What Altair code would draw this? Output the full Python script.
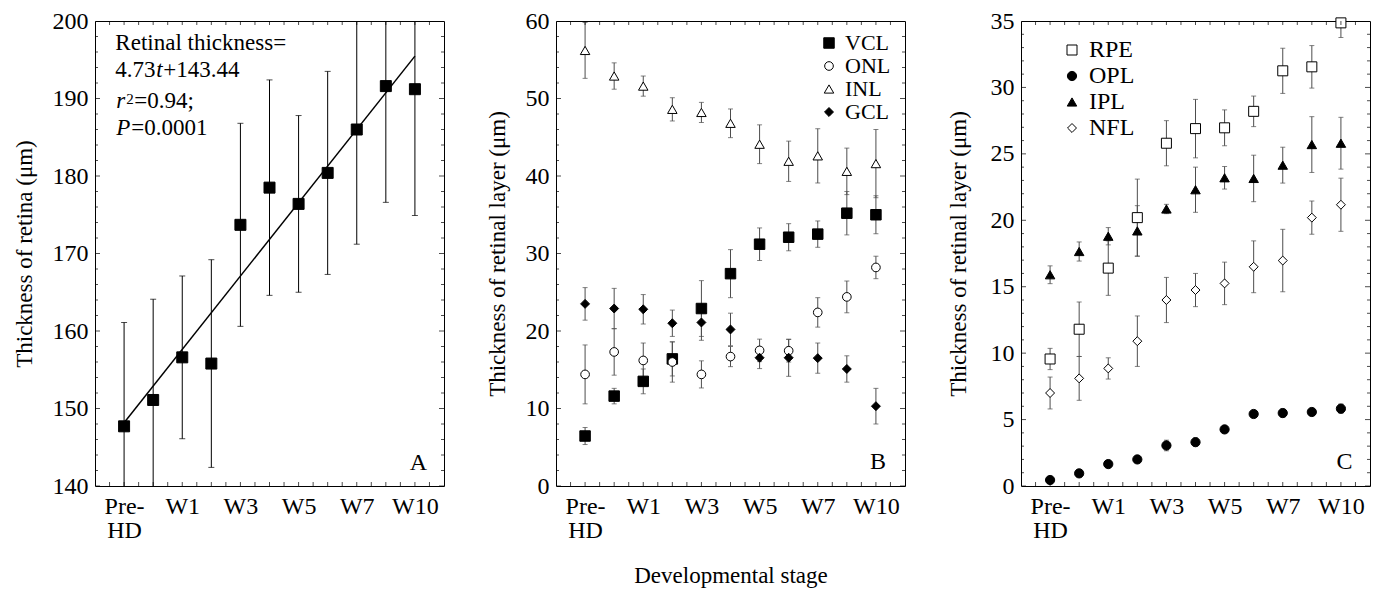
import altair as alt
import pandas as pd

FONT = "Liberation Serif"

# ---------------- shared x axis ----------------
stage_pos = [0, 1, 2, 3, 4, 5, 6, 7, 8, 9, 10]
x_tick_values = [0, 2, 4, 6, 8, 10]
x_tick_labels = ["Pre-\nHD", "W1", "W3", "W5", "W7", "W10"]
x_minor_ticks = [i * 0.5 for i in range(-1, 22)]
x_domain = [-1, 11]

# ---------------- panel A ----------------
retina_mean = [147.7, 151.1, 156.6, 155.8, 173.7, 178.5, 176.4, 180.4, 186.0, 191.6, 191.2]
retina_sd = [13.4, 13.0, 10.5, 13.4, 13.1, 13.9, 11.4, 13.1, 14.8, 15.0, 16.3]
fit_slope = 4.73
fit_intercept = 143.44
a_ydom = [140, 200]
a_ymajor = [140, 150, 160, 170, 180, 190, 200]
a_yminor = [v for v in range(142, 200, 2) if v % 10]

# ---------------- panel B ----------------
b_names = ["VCL", "ONL", "INL", "GCL"]
b_shapes = ["square", "circle", "triangle-up", "diamond"]
b_fills = ["black", "white", "white", "black"]
b_sizes = [110, 75, 90, 80]
vcl_mean = [6.45, 11.6, 13.5, 16.4, 22.9, 27.4, 31.2, 32.1, 32.5, 35.2, 35.0]
vcl_sd = [1.1, 1.0, 1.6, 2.2, 3.6, 3.1, 2.1, 1.75, 1.7, 2.8, 2.45]
onl_mean = [14.4, 17.3, 16.2, 16.0, 14.4, 16.7, 17.5, 17.45, 22.4, 24.4, 28.2]
onl_sd = [3.8, 3.0, 2.25, 2.6, 1.75, 1.3, 1.45, 1.45, 1.9, 2.05, 1.45]
inl_mean = [56.2, 52.9, 51.6, 48.6, 48.2, 46.8, 44.1, 41.9, 42.6, 40.6, 41.6]
inl_sd = [3.6, 1.7, 1.3, 1.5, 1.3, 1.85, 2.5, 2.6, 3.5, 3.0, 4.4]
gcl_mean = [23.5, 22.9, 22.8, 21.0, 21.1, 20.2, 16.55, 16.55, 16.5, 15.1, 10.3]
gcl_sd = [2.1, 2.6, 1.9, 1.7, 2.3, 2.1, 1.4, 2.4, 1.95, 1.7, 2.3]
b_ydom = [0, 60]
b_ymajor = [0, 10, 20, 30, 40, 50, 60]
b_yminor = [v for v in range(2, 60, 2) if v % 10]

# ---------------- panel C ----------------
c_names = ["RPE", "OPL", "IPL", "NFL"]
c_shapes = ["square", "circle", "triangle-up", "diamond"]
c_fills = ["white", "black", "black", "white"]
c_sizes = [100, 85, 90, 80]
rpe_mean = [9.56, 11.8, 16.4, 20.2, 25.8, 26.9, 26.96, 28.2, 31.25, 31.55, 34.86]
rpe_sd = [0.8, 2.05, 2.05, 2.9, 1.7, 2.2, 1.35, 1.15, 1.7, 1.6, 1.1]
opl_mean = [0.45, 0.95, 1.65, 2.0, 3.05, 3.3, 4.26, 5.42, 5.49, 5.57, 5.82]
opl_sd = [0.1, 0.1, 0.15, 0.15, 0.4, 0.3, 0.15, 0.2, 0.3, 0.2, 0.35]
ipl_mean = [15.9, 17.65, 18.8, 19.2, 20.85, 22.3, 23.2, 23.15, 24.15, 25.7, 25.8]
ipl_sd = [0.67, 0.72, 0.65, 1.9, 0.35, 1.7, 0.85, 1.75, 1.35, 2.1, 1.95]
nfl_mean = [7.0, 8.1, 8.85, 10.9, 14.0, 14.75, 15.25, 16.5, 16.97, 20.2, 21.17]
nfl_sd = [1.2, 1.65, 0.8, 1.9, 1.7, 1.25, 1.6, 1.95, 2.35, 1.25, 2.0]
c_ydom = [0, 35]
c_ymajor = [0, 5, 10, 15, 20, 25, 30, 35]
c_yminor = [v for v in range(1, 35) if v % 5]

# text
a_ytitle = "Thickness of retina (μm)"
b_ytitle = "Thickness of retinal layer (μm)"
c_ytitle = "Thickness of retinal layer (μm)"
x_title = "Developmental stage"

W, H = 349, 465


def label_expr(vals, labels):
    out = ""
    for v, l in zip(vals, labels):
        segs = l.split("\n")
        if len(segs) > 1:
            txt = "[" + ",".join("'" + s + "'" for s in segs) + "]"
        else:
            txt = "'" + l + "'"
        out += "datum.value == %s ? %s : " % (v, txt)
    return out + "''"


LABEL_EXPR = label_expr(x_tick_values, x_tick_labels)


def make_x(xtitle):
    def f(field):
        return alt.X(field, type="quantitative", title=xtitle,
                     scale=alt.Scale(domain=x_domain, nice=False, zero=False),
                     axis=alt.Axis(values=x_tick_values, labelExpr=LABEL_EXPR, grid=False,
                                   domain=False, ticks=False, labelPadding=8, labelFlush=False,
                                   labelOverlap=False, labelLineHeight=24, titlePadding=22))
    return f


def make_y(ydom, ymaj, ytitle, tpad):
    def f(field):
        return alt.Y(field, type="quantitative", title=ytitle,
                     scale=alt.Scale(domain=ydom, nice=False, zero=False),
                     axis=alt.Axis(values=ymaj, grid=False, domain=False, ticks=False,
                                   labelPadding=7, labelFlush=False, labelOverlap=False,
                                   titlePadding=tpad))
    return f


def long_df(names, means, sds):
    rows = []
    for name, m, s in zip(names, means, sds):
        for p, mv, sv in zip(stage_pos, m, s):
            rows.append({"series": name, "pos": p, "mean": mv, "lo": mv - sv, "hi": mv + sv})
    return pd.DataFrame(rows)


def errorbars(df, X, Y, color, cap):
    base = alt.Chart(df)
    rule = base.mark_rule(color=color, strokeWidth=1, clip=True).encode(
        x=X("pos"), y=Y("lo"), y2=alt.Y2("hi"))
    lo = base.mark_tick(orient="horizontal", size=cap, thickness=1, color=color, clip=True).encode(
        x=X("pos"), y=Y("lo"))
    hi = base.mark_tick(orient="horizontal", size=cap, thickness=1, color=color, clip=True).encode(
        x=X("pos"), y=Y("hi"))
    return [rule, lo, hi]


def frame_ticks(X, Y, ydom, ymaj, ymin):
    layers = []
    xt = pd.DataFrame({"t": x_minor_ticks})
    for yd in ydom:
        layers.append(alt.Chart(xt).mark_tick(orient="vertical", size=8, thickness=1,
                                              color="black", clip=True)
                      .encode(x=X("t"), y=alt.datum(yd)))
    for vals, sz in ((ymaj, 10), (ymin, 6)):
        yt = pd.DataFrame({"t": vals})
        for xd in x_domain:
            layers.append(alt.Chart(yt).mark_tick(orient="horizontal", size=sz, thickness=1,
                                                  color="black", clip=True)
                          .encode(x=alt.datum(xd), y=Y("t")))
    return layers


def text_piece(X, Y, x, y, txt, dx=0, dy=0, italic=False, size=23, align="left"):
    return alt.Chart(pd.DataFrame({"x": [x], "y": [y], "t": [txt]})).mark_text(
        font=FONT, fontSize=size, fontStyle="italic" if italic else "normal", align=align,
        baseline="alphabetic", dx=dx, dy=dy, color="black").encode(
        x=X("x"), y=Y("y"), text="t:N")


def series_points(df, X, Y, names, shapes, fills, sizes, legend):
    return alt.Chart(df).mark_point(filled=True, opacity=1, strokeWidth=1).encode(
        x=X("pos"), y=Y("mean"),
        shape=alt.Shape("series:N", scale=alt.Scale(domain=names, range=shapes), legend=legend),
        fill=alt.Fill("series:N", scale=alt.Scale(domain=names, range=fills), legend=legend),
        stroke=alt.Stroke("series:N", scale=alt.Scale(domain=names, range=["black"] * len(names)),
                          legend=legend),
        size=alt.Size("series:N", scale=alt.Scale(type="ordinal", domain=names, range=sizes), legend=legend),
    )


def legend_for(lx, ly, row_pad, fsize):
    return alt.Legend(title=None, orient="none", legendX=lx, legendY=ly, labelFont=FONT,
                      labelFontSize=fsize, labelColor="black", symbolStrokeColor="black",
                      symbolStrokeWidth=1, rowPadding=row_pad, labelOffset=5, padding=0)


# ---------------- build panel A ----------------
XA = make_x(None)
YA = make_y(a_ydom, a_ymajor, a_ytitle, 16)
dfa = long_df(["retina"], [retina_mean], [retina_sd])
fit_x = [stage_pos[0], stage_pos[-1]]
fit_df = pd.DataFrame({"x": fit_x, "y": [fit_intercept + fit_slope * (v + 1) for v in fit_x]})

a_layers = errorbars(dfa, XA, YA, "black", 6)
a_layers.append(alt.Chart(fit_df).mark_line(color="black", strokeWidth=1.5, clip=True).encode(
    x=XA("x"), y=YA("y")))
a_layers.append(alt.Chart(dfa).mark_point(shape="square", filled=True, fill="black", opacity=1,
                                          size=121, stroke="black", strokeWidth=1)
                .encode(x=XA("pos"), y=YA("mean")))
a_layers += frame_ticks(XA, YA, a_ydom, a_ymajor, a_yminor)
ax0 = -0.3
a_layers += [
    text_piece(XA, YA, ax0, 196.3, "Retinal thickness="),
    text_piece(XA, YA, ax0, 192.8, "4.73"),
    text_piece(XA, YA, ax0, 192.8, "t", dx=41, italic=True),
    text_piece(XA, YA, ax0, 192.8, "+143.44", dx=48),
    text_piece(XA, YA, ax0, 188.8, "r", dx=1, italic=True),
    text_piece(XA, YA, ax0, 188.8, "2", dx=11, dy=-4, size=15),
    text_piece(XA, YA, ax0, 188.8, "=0.94;", dx=19),
    text_piece(XA, YA, ax0, 185.3, "P", dx=1, italic=True),
    text_piece(XA, YA, ax0, 185.3, "=0.0001", dx=16),
    text_piece(XA, YA, 10.42, 142.1, "A", size=24, align="right"),
]
panel_a = alt.layer(*a_layers).properties(width=W, height=H)

# ---------------- build panel B ----------------
XB = make_x(x_title)
YB = make_y(b_ydom, b_ymajor, b_ytitle, 16)
dfb = long_df(b_names, [vcl_mean, onl_mean, inl_mean, gcl_mean], [vcl_sd, onl_sd, inl_sd, gcl_sd])
b_layers = errorbars(dfb, XB, YB, "#4d4d4d", 5)
b_layers.append(series_points(dfb, XB, YB, b_names, b_shapes, b_fills, b_sizes,
                              legend_for(262, 11, 1, 22)))
b_layers += frame_ticks(XB, YB, b_ydom, b_ymajor, b_yminor)
b_layers.append(text_piece(XB, YB, 10.35, 2.2, "B", size=24, align="right"))
panel_b = alt.layer(*b_layers).properties(width=W, height=H)

# ---------------- build panel C ----------------
XC = make_x(None)
YC = make_y(c_ydom, c_ymajor, c_ytitle, 20)
dfc = long_df(c_names, [rpe_mean, opl_mean, ipl_mean, nfl_mean], [rpe_sd, opl_sd, ipl_sd, nfl_sd])
c_layers = errorbars(dfc, XC, YC, "#4d4d4d", 5)
c_layers.append(series_points(dfc, XC, YC, c_names, c_shapes, c_fills, c_sizes,
                              legend_for(39, 17, 2, 24)))
c_layers += frame_ticks(XC, YC, c_ydom, c_ymajor, c_yminor)
c_layers.append(text_piece(XC, YC, 10.4, 1.3, "C", size=24, align="right"))
panel_c = alt.layer(*c_layers).properties(width=W, height=H)

chart = (
    alt.hconcat(panel_a, panel_b, panel_c, spacing=40)
    .resolve_scale(x="independent", y="independent", shape="independent",
                   fill="independent", stroke="independent", size="independent")
    .resolve_legend(shape="independent", fill="independent", stroke="independent",
                    size="independent")
    .configure_view(stroke="black", strokeWidth=1)
    .configure_axis(labelFont=FONT, titleFont=FONT, labelFontSize=24, titleFontSize=23,
                    titleFontWeight="normal", labelColor="black", titleColor="black")
    .properties(padding={"left": 4, "top": 0, "right": 0, "bottom": 0})
)

chart.save("out.html", embed_options={"renderer": "svg", "actions": False})
